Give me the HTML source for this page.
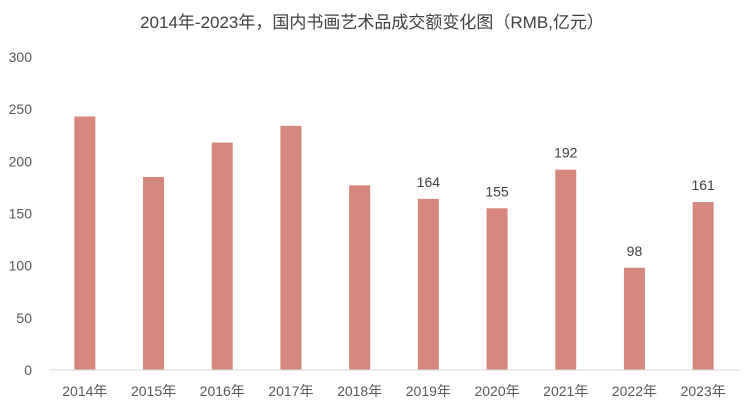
<!DOCTYPE html>
<html><head><meta charset="utf-8"><style>
html,body{margin:0;padding:0;background:#fff;}
svg{display:block;font-family:"Liberation Sans","Noto Sans CJK SC",sans-serif;}
</style></head><body>
<svg id="chart" width="744" height="411" viewBox="0 0 744 411">
<text x="372" y="28" text-anchor="middle" font-size="17" fill="#404040">2014年-2023年，国内书画艺术品成交额变化图（RMB,亿元）</text>
<g id="yaxis"></g>
<g id="bars"></g>
<g id="xaxis"></g>
</svg>
<script>
const categories=["2014年","2015年","2016年","2017年","2018年","2019年","2020年","2021年","2022年","2023年"];
const values=[243,185,218,234,177,164,155,192,98,161];
const labelShown=[false,false,false,false,false,true,true,true,true,true];
const yTicks=[0,50,100,150,200,250,300];
const NS="http://www.w3.org/2000/svg";
const x0=50.5,x1=737.5,yBase=370,yTop=57,yMax=300;
const band=(x1-x0)/categories.length;
const xs=i=>x0+band*(i+0.5);
const ys=v=>yBase-(v/yMax)*(yBase-yTop);
function mk(tag,attrs,parent){const e=document.createElementNS(NS,tag);for(const k in attrs)e.setAttribute(k,attrs[k]);parent.appendChild(e);return e;}
const ya=document.getElementById('yaxis'),bg=document.getElementById('bars'),xa=document.getElementById('xaxis');
yTicks.forEach(t=>{const e=mk('text',{x:32,y:ys(t)+5,'text-anchor':'end','font-size':14,fill:'#595959'},ya);e.textContent=t;

});
const ax=mk('line',{x1:50,x2:740,y1:yBase,y2:yBase,stroke:'#d9d9d9','stroke-width':1},xa);


categories.forEach((c,i)=>{
const v=values[i],bw=21;
const r=mk('rect',{x:xs(i)-bw/2,y:ys(v),width:bw,height:yBase-ys(v),fill:'#d4877a'},bg);


if(labelShown[i]){const l=mk('text',{x:xs(i),y:ys(v)-12,'text-anchor':'middle','font-size':14,fill:'#404040'},bg);l.textContent=v;

}
const t=mk('text',{x:xs(i),y:396,'text-anchor':'middle','font-size':14,fill:'#595959'},xa);t.textContent=c;


});
</script>
</body></html>
